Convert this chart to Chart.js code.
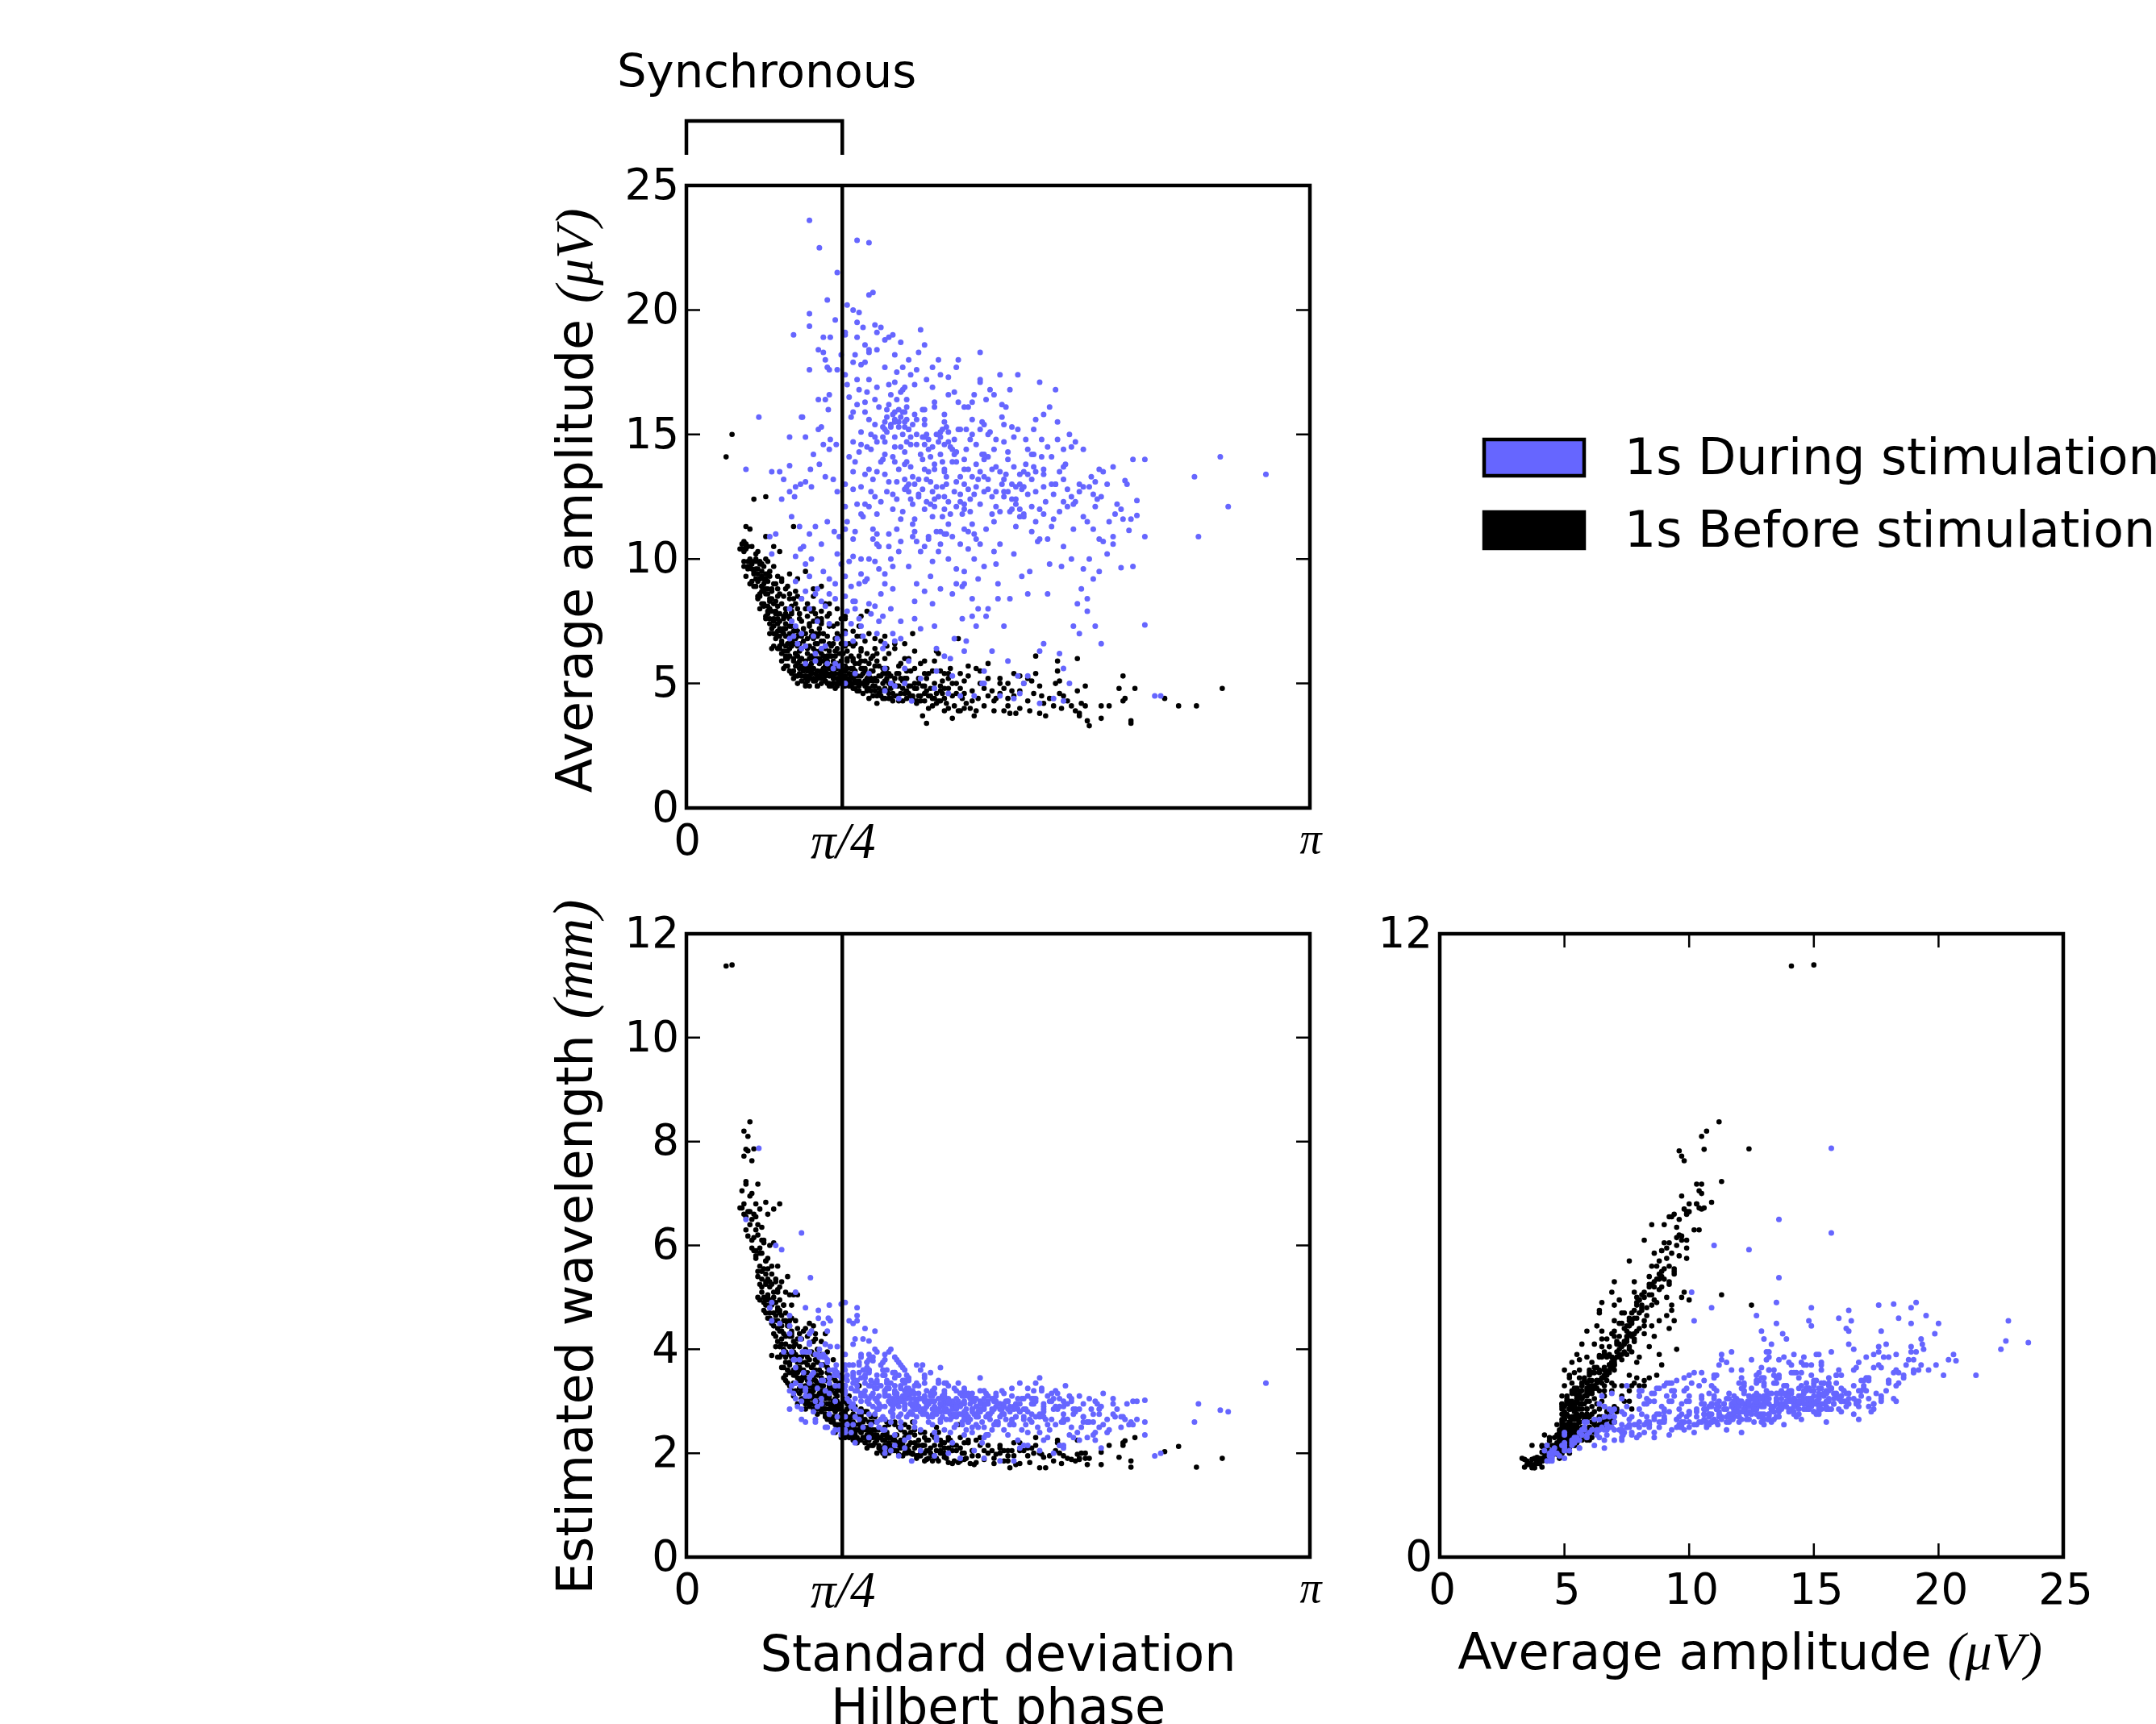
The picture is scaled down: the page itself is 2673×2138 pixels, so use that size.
<!DOCTYPE html>
<html>
<head>
<meta charset="utf-8">
<title>Synchrony, amplitude and wavelength</title>
<script src="https://cdn.jsdelivr.net/npm/chart.js@4"></script>
<style>
html,body{margin:0;padding:0;background:#fff;width:2673px;height:2138px;overflow:hidden}
canvas{position:absolute;display:block}
</style>
</head>
<body>
<canvas id="c1" width="2033" height="1100" style="left:640px;top:0"></canvas>
<canvas id="c2" width="1040" height="1100" style="left:640px;top:1100px"></canvas>
<canvas id="c3" width="993" height="1100" style="left:1680px;top:1100px"></canvas>
<script>
const PI = Math.PI;
const phaseTicks = [0, PI / 4, PI];
const phaseTickLabels = ['0', 'π/4', 'π'];
const amplitudeTicks = [0, 5, 10, 15, 20, 25];
const wavelengthTicks = [0, 2, 4, 6, 8, 10, 12];
const wavelengthTicksShort = [0, 12];
const synchronousLimit = PI / 4;
const duringLabel = '1s During stimulation';
const beforeLabel = '1s Before stimulation';

const beforePhase = [
.20,.23,.29,.30,.31,.32,.34,.40,.30,.29,
.31,.33,.28,.30,.32,.29,.27,.28,.31,.33,
.35,.34,.36,.29,.30,.32,.33,.35,.37,.44,
.40,.38,.41,.47,.31,.33,.35,.36,.37,.39,
.34,.35,.36,.38,.39,.40,.41,.42,.43,.44,
.37,.38,.39,.40,.41,.42,.43,.44,.45,.46,
.36,.37,.39,.40,.41,.42,.44,.45,.46,.48,
.41,.42,.43,.44,.45,.46,.47,.48,.49,.50,
.43,.45,.46,.47,.48,.49,.50,.51,.52,.53,
.47,.48,.49,.50,.51,.52,.53,.54,.55,.56,
.49,.50,.51,.52,.53,.54,.55,.56,.57,.58,
.52,.53,.54,.55,.56,.57,.58,.59,.60,.61,
.55,.57,.58,.59,.60,.61,.62,.63,.64,.65,
.58,.60,.61,.62,.63,.64,.65,.66,.67,.68,
.60,.62,.63,.64,.65,.66,.67,.68,.69,.70,
.62,.64,.65,.66,.67,.68,.69,.70,.71,.72,
.66,.67,.68,.69,.70,.71,.72,.73,.74,.75,
.69,.70,.71,.72,.73,.74,.75,.76,.77,.78,
.71,.73,.74,.75,.76,.77,.78,.79,.80,.81,
.74,.76,.77,.78,.79,.80,.81,.82,.83,.84,
.78,.79,.80,.81,.82,.83,.84,.85,.86,.87,
.80,.82,.84,.85,.86,.87,.88,.89,.90,.91,
.85,.87,.88,.89,.90,.91,.92,.93,.94,.95,
.88,.90,.91,.92,.93,.94,.95,.96,.97,.98,
.92,.94,.96,.97,.98,.99,1.00,1.01,1.02,1.03,
.96,.98,1.00,1.01,1.02,1.03,1.04,1.05,1.06,1.07,
1.00,1.02,1.04,1.05,1.06,1.07,1.08,1.09,1.10,1.11,
1.08,1.09,1.10,1.11,1.12,1.13,1.14,1.15,1.16,1.17,
1.12,1.13,1.15,1.16,1.17,1.18,1.19,1.20,1.21,1.22,
1.14,1.18,1.20,1.22,1.23,1.24,1.25,1.26,1.27,1.28,
1.21,1.24,1.26,1.28,1.29,1.30,1.31,1.32,1.33,1.34,
1.28,1.30,1.32,1.34,1.35,1.36,1.37,1.38,1.39,1.40,
1.36,1.38,1.40,1.41,1.42,1.43,1.44,1.45,1.46,1.47,
1.44,1.46,1.48,1.50,1.52,1.54,1.55,1.56,1.58,1.60,
1.50,1.52,1.55,1.58,1.60,1.62,1.63,1.64,1.65,1.66,
1.62,1.65,1.68,1.70,1.72,1.73,1.75,1.76,1.78,1.80,
1.68,1.74,1.79,1.81,1.83,1.85,1.86,1.88,1.89,1.90,
1.76,1.87,1.97,1.87,1.88,1.92,1.94,1.96,1.97,1.98,
2.01,2.01,2.09,2.13,1.98,2.02,2.03,2.09,2.20,2.18,
2.21,2.20,2.26,2.24,2.24,2.41,2.48,2.57,2.70,1.99,
.36,.38,.40,.42,.44,.46,.48,.50,.52,.54,
.39,.41,.43,.45,.47,.49,.51,.53,.55,.57,
.51,.53,.55,.57,.59,.61,.63,.65,.67,.69,
.56,.58,.60,.62,.64,.66,.68,.70,.72,.74,
.61,.63,.65,.67,.69,.71,.73,.75,.77,.79,
.66,.68,.70,.72,.74,.76,.78,.80,.82,.84,
.73,.75,.77,.79,.81,.83,.85,.87,.89,.91,
.76,.78,.80,.82,.84,.86,.88,.90,.92,.94,
.83,.85,.87,.89,.91,.93,.95,.97,.99,1.01,
.93,.95,.97,.99,1.01,1.03,1.05,1.07,1.09,1.11,
1.02,1.04,1.06,1.08,1.10,1.12,1.14,1.16,1.18,1.20,
1.01,1.13,1.15,1.17,1.19,1.21,1.23,1.25,1.27,1.29,
1.20,1.22,1.24,1.26,1.28,1.30,1.32,1.34,1.37,1.40,
.33,.35,.37,.38,.40,.41,.42,.44,.46,.47,
.49,.50,.52,.54,.56,.58,.60,.62,.64,.66,
.36,.38,.40,.42,.44,.46,.48,.50,.52,.54,
.56,.58,.60,.62,.64,.66,.68,.70,.72,.74,
.55,.58,.61,.64,.68,.72,.76,.80,.84,.88,
.52,.56,.60,.64,.68,.72,.76,.80,.84,.88,
.46,.47,.49,.51,.53,.55,.57,.59,.61,.63,
.50,.53,.56,.59,.62,.65,.68,.71,.74,.77,
.75,.79,.83,.87,.91,.95,.99,1.03,1.07,1.11,
.85,.90,.95,1.00,1.05,1.10,1.15,1.20,1.25,1.30,
.30,.32,.34,.35,.37,.39,.41,.43,.45,.47,
.54,.57,.60,.63,.66,.69,.72,.75,.78,.81,
.38,.40,.42,.44,.46,.48,.50,.52,.54,.56,
1.32,1.38,1.42,1.48,1.52,1.58,1.62,1.68,1.72,1.78,
.64,.68,.72,.76,.80,.84,.88,.92,.96,1.00,
.46,.48,.50,.52,.54,.56,.58,.60,.62,.64,
.66,.68,.70,.72,.74,.76,.78,.80,.82,.84,
.86,.88,.90,.92,.94,.96,.98,1.00,1.02,1.04
];
const beforeAmplitude = [
14.1,15.0,10.7,11.3,10.5,11.2,12.4,12.5,10.6,9.7,
9.6,9.8,10.4,10.5,9.7,10.3,10.4,10.6,9.9,10.5,
10.0,9.4,10.3,9.9,9.3,9.0,9.6,9.2,9.8,10.5,
10.9,9.5,9.9,10.3,9.7,9.1,8.9,9.6,8.6,9.2,
8.9,9.6,8.4,9.3,9.7,8.8,9.1,9.5,8.7,9.0,
8.5,8.9,8.2,8.6,7.9,8.4,8.8,8.2,9.0,8.5,
9.1,8.0,8.7,7.7,9.4,7.6,7.5,7.9,8.1,9.2,
7.8,8.3,7.2,7.6,7.0,7.4,8.6,7.1,7.7,8.0,
6.4,6.8,7.8,7.5,6.6,7.2,6.9,7.7,8.4,6.7,
6.9,8.2,6.3,7.4,8.9,6.4,7.9,11.3,7.2,8.5,
5.6,6.0,6.6,7.0,7.3,5.9,6.2,6.9,7.6,5.7,
6.1,7.8,6.6,8.2,7.1,6.3,7.5,6.7,8.0,5.5,
5.3,5.6,6.4,7.2,5.9,6.8,7.4,6.1,8.5,7.0,
5.1,6.5,7.7,5.2,6.9,5.6,6.3,7.6,5.3,6.7,
4.9,5.7,7.9,6.0,5.4,6.6,7.2,5.0,6.1,8.2,
4.9,6.8,7.8,5.5,6.3,7.5,5.2,6.0,6.9,5.6,
4.9,5.8,6.2,7.0,5.1,7.7,5.3,6.5,7.3,5.7,
5.6,6.4,5.0,6.1,4.9,5.5,6.8,5.2,6.2,7.6,
5.9,5.4,6.6,5.0,5.8,5.1,5.5,7.0,4.9,6.0,
5.3,6.4,5.7,5.0,6.2,5.3,5.6,6.6,4.9,5.2,
5.9,5.2,5.7,5.0,5.4,6.1,5.6,4.8,6.9,5.1,
6.5,4.9,5.0,5.8,5.3,7.3,5.9,4.6,5.5,6.2,
5.5,5.8,5.0,5.4,4.9,7.9,5.3,6.0,4.5,5.7,
6.4,5.6,5.0,4.4,5.2,5.5,4.9,6.2,4.6,5.3,
5.8,6.1,5.1,5.7,4.5,5.4,6.0,4.7,5.0,4.4,
4.2,6.7,5.1,5.6,4.6,5.3,4.3,6.6,4.9,5.7,
4.8,4.4,5.0,4.5,5.4,4.3,4.6,5.1,6.0,4.4,
5.8,4.8,5.2,4.7,6.0,4.9,4.5,5.6,4.2,5.0,
4.6,5.5,4.8,4.3,5.2,4.5,3.7,5.4,4.7,4.0,
4.4,5.8,4.9,5.4,4.5,4.1,5.0,6.3,4.3,4.7,
3.4,5.5,4.6,4.3,5.1,4.4,4.2,4.8,5.6,3.6,
4.9,3.9,5.2,4.5,4.1,5.0,3.9,4.8,4.4,4.0,
4.6,3.9,5.1,4.2,5.3,4.0,4.7,3.7,5.6,4.4,
4.3,3.9,5.0,4.1,5.8,4.7,3.9,4.4,5.0,3.9,
4.8,4.5,4.3,4.6,4.8,4.1,3.8,4.7,4.5,3.8,
4.4,5.4,4.0,5.0,4.3,3.9,4.6,5.4,3.8,4.2,
4.7,5.1,4.5,3.7,4.4,4.1,5.0,4.6,4.0,4.5,
6.1,5.9,6.0,5.5,5.1,4.3,4.1,3.9,4.7,3.8,
4.9,4.1,4.1,4.1,3.7,3.5,3.3,3.6,5.3,4.8,
4.4,4.3,4.8,3.5,3.4,4.4,4.1,4.1,4.8,4.2,
9.4,8.7,9.2,8.0,7.0,8.8,6.7,6.5,7.3,6.0,
8.1,8.6,7.9,8.3,6.5,7.6,6.0,7.5,5.7,6.6,
5.7,5.4,6.8,7.8,5.5,6.2,7.1,5.1,7.0,5.9,
5.8,6.0,7.0,6.5,5.1,6.0,5.5,5.5,6.6,5.9,
5.1,5.5,6.6,6.0,6.7,5.4,6.1,5.4,6.9,4.9,
5.2,5.9,5.7,6.3,5.0,5.6,5.3,5.5,5.1,5.9,
5.7,6.1,5.4,5.6,5.9,5.3,5.1,6.1,5.6,5.2,
4.9,5.4,5.1,5.2,5.4,5.0,5.3,5.9,4.8,5.1,
5.6,5.3,4.9,5.0,4.7,4.7,6.4,5.3,5.0,5.4,
5.5,5.2,4.8,4.4,5.2,4.8,5.2,4.9,4.3,5.5,
6.2,4.6,4.5,5.2,4.6,4.9,7.0,4.8,4.3,4.6,
6.5,4.5,5.0,4.5,4.9,5.2,4.8,4.4,6.2,4.6,
4.3,4.5,4.4,4.2,5.5,4.8,4.0,5.0,6.8,4.6,
9.9,10.2,9.9,8.9,9.4,8.1,7.4,7.3,7.6,7.8,
8.5,7.2,7.6,7.1,6.1,6.9,5.3,6.0,7.5,6.9,
8.5,8.2,7.6,7.0,6.5,6.4,5.9,5.7,5.5,5.2,
5.0,5.3,5.0,5.6,5.2,4.9,5.4,5.1,4.9,5.0,
8.7,8.4,8.2,8.0,7.6,7.3,7.0,7.1,6.5,6.9,
9.4,9.2,9.5,8.8,8.9,8.2,8.0,7.6,7.1,6.3,
6.9,6.4,7.0,6.3,6.5,6.2,5.9,5.6,6.4,5.8,
7.8,8.1,6.5,7.0,7.3,6.9,7.4,6.1,5.5,5.2,
4.8,4.9,5.0,4.7,4.8,4.7,5.6,4.9,5.4,5.2,
6.6,6.7,6.8,6.9,6.4,6.6,6.3,5.9,5.9,5.4,
10.4,10.0,9.5,9.9,9.2,9.0,8.8,8.4,7.8,7.2,
6.8,5.4,5.6,5.4,5.3,5.4,5.7,6.3,6.6,6.3,
9.8,10.0,9.3,9.7,9.3,9.1,8.8,8.6,8.4,8.0,
5.4,5.4,5.7,5.5,5.2,5.2,5.0,5.3,5.2,4.9,
6.4,7.9,7.8,7.4,7.7,6.0,7.7,7.0,5.9,5.4,
7.1,6.2,6.1,6.6,5.5,5.3,6.0,5.2,5.3,5.6,
4.9,5.2,5.3,5.0,5.2,5.0,5.0,5.2,5.0,4.8,
4.7,5.6,5.1,5.1,4.9,4.5,4.7,4.4,5.4,4.9
];
const beforeWavelength = [
11.38,11.40,8.20,7.23,8.10,8.38,7.86,4.85,7.85,7.72,
7.82,7.63,7.05,7.18,6.95,6.80,6.72,6.72,6.65,7.00,
6.80,6.60,7.18,6.60,6.55,6.40,6.50,6.55,6.70,6.70,
6.83,6.35,6.60,6.80,6.18,5.95,5.90,6.20,5.85,6.05,
5.90,5.80,5.40,5.85,6.10,5.70,5.75,6.00,5.60,6.05,
5.25,5.50,5.00,5.30,5.00,5.20,5.45,5.10,5.35,5.60,
5.00,4.95,4.90,4.70,5.55,4.60,4.45,4.90,4.80,5.30,
4.60,4.80,4.50,4.30,4.25,4.40,5.20,4.10,4.55,4.70,
3.88,4.05,4.15,4.35,3.90,4.00,3.75,4.50,5.05,3.85,
3.85,4.45,3.65,3.95,5.40,3.55,4.60,5.05,4.10,5.05,
3.45,3.50,3.60,3.70,3.90,3.35,3.55,3.75,4.05,3.30,
3.75,4.30,3.95,4.55,3.85,3.40,4.20,3.50,4.40,3.10,
3.20,3.15,3.60,3.90,3.25,3.70,4.10,3.30,4.45,3.80,
3.05,3.45,4.25,2.95,3.65,3.10,3.40,4.00,2.90,3.55,
2.85,3.20,4.35,3.25,2.95,3.50,3.85,2.80,3.30,4.30,
2.90,3.70,4.20,3.00,3.35,3.90,2.85,3.20,3.65,3.05,
2.75,3.10,3.30,3.70,2.75,3.95,2.85,3.45,3.80,3.05,
2.95,3.40,2.65,3.15,2.60,2.85,3.55,2.70,3.25,3.50,
3.10,2.90,3.45,2.55,2.95,2.55,2.75,3.30,2.45,3.00,
2.70,3.20,2.85,2.45,3.05,2.55,2.70,3.10,2.40,2.55,
2.85,2.60,2.75,2.35,2.65,2.90,2.60,2.35,3.20,2.45,
3.00,2.35,2.30,2.70,2.45,3.30,2.75,2.30,2.50,2.80,
2.55,2.65,2.25,2.50,2.20,3.75,2.40,2.70,2.15,2.45,
2.70,2.45,2.25,2.30,2.35,2.45,2.20,2.60,2.10,2.30,
2.50,2.60,2.25,2.45,2.05,2.35,2.50,2.10,2.20,2.05,
2.35,2.65,2.25,2.40,2.15,2.30,2.10,2.60,2.20,2.50,
2.15,2.00,2.25,2.05,2.35,1.98,2.10,2.20,2.40,2.05,
2.45,2.15,2.30,2.10,2.50,2.20,1.98,2.35,1.90,2.15,
2.05,2.40,2.10,1.95,2.25,2.00,2.15,2.30,2.05,1.90,
2.00,2.40,2.15,2.25,2.00,1.85,2.15,2.50,1.85,2.05,
1.88,2.35,2.05,2.00,2.20,2.00,1.90,2.10,2.25,1.80,
2.15,1.92,2.25,2.05,1.85,2.15,1.82,2.10,2.00,1.88,
2.05,1.85,2.20,1.90,2.20,1.80,2.05,1.78,2.25,1.95,
1.95,1.82,2.15,1.88,2.35,2.05,1.80,1.98,2.10,1.85,
2.05,2.00,1.90,2.00,2.05,1.85,1.72,2.05,1.95,1.78,
1.95,2.20,1.80,2.05,1.95,1.82,2.00,2.15,1.72,1.92,
2.05,2.10,1.98,1.72,1.95,1.85,2.05,2.00,1.80,1.95,
2.30,2.25,2.25,2.20,2.15,1.90,1.88,1.85,1.98,1.90,
2.00,1.90,2.02,2.15,1.88,1.78,1.90,1.78,2.20,1.92,
2.24,2.15,2.30,1.85,1.73,2.03,2.13,1.73,1.90,2.00,
5.50,5.35,5.25,4.95,4.55,5.15,4.20,3.85,4.05,3.55,
4.75,4.95,4.85,4.65,4.05,4.30,3.60,4.25,3.35,3.65,
3.35,3.20,3.90,4.30,3.05,3.55,3.95,3.00,3.60,3.20,
3.45,3.40,3.75,3.35,2.95,3.25,3.05,2.85,3.50,3.00,
3.00,3.05,3.60,3.15,3.40,2.95,3.20,2.80,3.35,2.50,
2.85,3.15,3.05,3.25,2.65,2.85,2.65,2.65,2.45,2.75,
2.95,3.15,2.70,2.70,2.85,2.55,2.40,2.75,2.60,2.35,
2.55,2.55,2.40,2.50,2.45,2.30,2.40,2.65,2.25,2.30,
2.60,2.45,2.25,2.30,2.10,2.15,2.70,2.30,2.25,2.35,
2.40,2.35,2.15,2.00,2.30,2.15,2.25,2.20,1.95,2.35,
2.55,2.10,2.05,2.25,2.00,2.15,2.60,2.15,1.95,2.00,
2.60,2.00,2.20,1.95,2.15,2.25,2.10,1.95,2.40,2.00,
1.85,2.05,1.95,1.90,2.25,2.10,1.82,2.15,2.55,2.00,
6.10,6.30,5.95,5.20,5.45,5.05,4.70,4.70,4.55,4.75,
4.85,4.25,4.45,4.15,3.55,3.85,3.00,3.30,4.15,3.75,
6.40,6.10,5.70,5.30,4.90,4.75,4.35,4.10,3.90,3.50,
3.60,3.75,3.30,3.80,3.45,3.10,3.55,3.10,2.95,2.90,
3.50,3.45,3.40,3.30,3.20,3.10,2.90,2.80,2.70,2.60,
4.55,4.40,4.00,3.90,3.70,3.30,3.10,3.00,2.85,2.50,
5.10,4.70,4.85,4.45,4.35,4.10,3.85,3.60,3.85,3.40,
5.10,4.85,4.20,4.35,4.50,4.30,4.15,3.55,3.25,2.95,
2.40,2.65,2.70,2.55,2.45,2.35,2.25,2.05,2.15,2.00,
2.90,2.80,2.75,2.65,2.55,2.55,2.45,2.40,2.30,2.20,
6.30,6.65,6.15,5.75,5.60,5.55,5.35,5.25,5.30,4.95,
3.60,3.25,2.95,3.15,3.35,3.20,3.30,3.40,3.20,2.95,
5.10,4.95,4.85,5.00,4.75,4.65,4.55,4.25,4.05,3.85,
2.30,2.30,2.25,2.30,2.15,2.15,2.05,2.20,2.10,2.00,
2.85,3.45,3.35,3.00,3.30,2.35,2.85,2.60,2.30,2.15,
3.85,3.65,3.40,3.30,3.10,2.95,3.20,3.00,3.15,3.20,
2.95,2.85,2.70,2.65,2.60,2.50,2.30,2.30,2.30,2.25,
2.20,2.40,2.30,2.15,2.15,2.00,2.10,1.95,2.30,2.05
];

const duringPhase = [
.62,.67,.76,.86,.92,.92,.94,.71,.81,.87,
.365,.30,.58,.45,.48,.625,.55,.42,.43,.43,
.54,.62,.62,.665,.69,.69,.725,.71,.62,.665,
.70,.715,.585,.52,.52,.60,.665,.69,.725,.755,
.47,.49,.52,.545,.575,.60,.63,.67,.70,.74,
.53,.55,.57,.59,.62,.65,.68,.71,.745,.77,
.575,.60,.63,.66,.69,.72,.75,.78,.58,.62,
.62,.66,.52,.55,.58,.60,.64,.68,.72,.76,
.74,.78,.80,.84,.88,.60,.65,.70,.75,.80,
.80,.81,.82,.83,.84,.85,.86,.87,.88,.89,
.80,.81,.82,.83,.84,.85,.86,.87,.88,.89,
.81,.83,.85,.87,.89,.82,.84,.86,.88,.90,
.90,.91,.92,.93,.94,.95,.96,.97,.98,.99,
.90,.91,.92,.93,.94,.95,.96,.97,.98,.99,
.91,.93,.95,.97,.99,.92,.94,.96,.98,1.00,
1.00,1.01,1.02,1.03,1.04,1.05,1.06,1.07,1.08,1.09,
1.00,1.01,1.02,1.03,1.04,1.05,1.06,1.07,1.08,1.09,
1.01,1.03,1.05,1.07,1.09,1.02,1.04,1.06,1.08,1.10,
1.02,1.04,1.06,1.08,1.10,1.03,1.05,1.07,1.09,1.11,
1.10,1.11,1.12,1.13,1.14,1.15,1.16,1.17,1.18,1.19,
1.10,1.11,1.12,1.13,1.14,1.15,1.16,1.17,1.18,1.19,
1.11,1.13,1.15,1.17,1.19,1.12,1.14,1.16,1.18,1.20,
1.20,1.21,1.22,1.23,1.24,1.25,1.26,1.27,1.28,1.29,
1.20,1.21,1.22,1.23,1.24,1.25,1.26,1.27,1.28,1.29,
1.21,1.23,1.25,1.27,1.29,1.22,1.24,1.26,1.28,1.30,
1.30,1.31,1.32,1.33,1.34,1.35,1.36,1.37,1.38,1.39,
1.30,1.31,1.32,1.33,1.34,1.35,1.36,1.37,1.38,1.39,
1.31,1.33,1.35,1.37,1.39,1.32,1.34,1.36,1.38,1.40,
1.40,1.41,1.42,1.43,1.44,1.45,1.46,1.47,1.48,1.49,
1.40,1.41,1.42,1.43,1.44,1.45,1.46,1.47,1.48,1.49,
1.41,1.43,1.45,1.47,1.49,1.42,1.44,1.46,1.48,1.50,
1.50,1.51,1.52,1.53,1.54,1.55,1.56,1.57,1.58,1.59,
1.50,1.51,1.52,1.53,1.54,1.55,1.56,1.57,1.58,1.59,
1.60,1.61,1.62,1.63,1.64,1.65,1.66,1.67,1.68,1.69,
1.60,1.61,1.62,1.63,1.64,1.65,1.66,1.67,1.68,1.69,
1.70,1.71,1.72,1.73,1.74,1.75,1.76,1.77,1.78,1.79,
1.72,1.74,1.76,1.78,1.80,1.82,1.84,1.86,1.88,1.90,
1.80,1.81,1.83,1.85,1.87,1.89,1.91,1.93,1.95,1.97,
1.82,1.84,1.86,1.88,1.90,1.92,1.94,1.96,1.98,2.00,
1.92,1.94,1.96,1.98,2.00,2.02,2.04,2.05,2.06,2.08,
2.00,2.03,2.05,2.06,2.08,2.09,2.10,2.12,2.13,2.15,
2.92,2.73,2.69,2.58,2.56,2.39,2.36,2.31,2.31,2.31,
2.25,2.27,2.27,2.24,2.23,2.20,2.21,2.15,2.15,2.09,
2.25,2.19,2.16,2.17,2.12,2.22,2.19,2.05,2.02,2.08,
.53,.54,.56,.58,.65,.71,.77,.80,.85,.92,
1.00,1.03,1.05,1.07,1.10,1.135,1.18,1.25,1.32,1.38,
1.45,1.50,1.58,1.65,1.68,1.72,1.78,1.85,1.90,1.93,
.72,.78,.80,.86,.86,.92,.90,.84,.75,.70,
.95,.97,.99,1.01,1.03,1.05,1.07,1.09,1.11,1.13,
.96,.98,1.00,1.02,1.04,1.06,1.08,1.10,1.12,1.14,
1.12,1.14,1.16,1.18,1.20,1.22,1.24,1.26,1.28,1.30,
1.13,1.15,1.17,1.19,1.21,1.23,1.25,1.27,1.29,1.31,
1.22,1.24,1.26,1.28,1.30,1.32,1.34,1.36,1.38,1.40,
1.32,1.34,1.36,1.38,1.40,1.42,1.44,1.46,1.48,1.50,
1.42,1.44,1.46,1.48,1.50,1.52,1.54,1.56,1.58,1.60,
1.52,1.54,1.56,1.58,1.60,1.62,1.64,1.66,1.68,1.70,
1.62,1.64,1.66,1.68,1.70,1.72,1.74,1.76,1.78,1.80,
1.72,1.74,1.76,1.78,1.80,1.82,1.84,1.86,1.88,1.90,
.80,.84,.88,.92,.96,1.00,1.04,1.08,1.12,1.16,
1.20,1.24,1.28,1.32,1.36,1.40,1.44,1.48,1.52,1.56,
.72,.76,.80,.84,.88,.92,.96,1.00,1.04,1.08,
1.12,1.16,1.20,1.24,1.28,1.32,1.36,1.40,1.44,1.48,
.84,.87,.90,.93,.96,.99,1.02,1.05,1.08,1.11,
1.51,1.55,1.59,1.63,1.67,1.71,1.75,1.79,1.83,1.87,
.64,.68,.72,.76,.80,.84,.88,.92,.96,1.00,
.68,.72,.76,.80,.84,.88,.92,.96,1.00,1.04,
1.90,1.94,1.98,2.02,2.06,2.10,1.99,1.95,2.03,2.07,
1.20,1.30,1.40,1.50,1.60,1.70,1.80,1.90,1.10,1.00,
.55,.60,.65,.70,.75,.80,.85,.90,.95,.52,
.85,.90,.95,1.00,1.05,1.10,1.15,1.20,1.25,1.30,
.95,1.00,1.05,1.10,1.15,1.20,1.25,1.30,1.35,1.40,
1.05,1.10,1.15,1.20,1.25,1.30,1.35,1.40,1.45,1.50,
1.55,1.60,1.65,1.70,1.75,1.80,1.85,1.90,1.95,2.00
];
const duringAmplitude = [
23.6,22.5,21.5,22.8,22.7,20.6,20.7,20.4,20.2,19.9,
15.7,13.6,15.7,11.0,12.4,13.6,10.1,10.9,10.2,13.5,
19.0,19.85,19.35,18.4,18.3,18.9,18.9,17.7,17.6,16.4,
16.4,16.0,15.7,14.9,13.75,14.9,15.2,14.6,14.8,14.6,
13.5,13.2,12.7,12.5,13.0,13.1,12.9,13.8,13.3,13.2,
11.7,12.9,11.3,10.5,11.0,11.3,10.6,11.5,11.1,10.9,
10.4,9.8,10.0,8.8,9.5,8.6,9.0,9.8,8.4,9.3,
8.0,7.5,8.0,7.3,7.0,6.5,6.9,6.4,7.4,6.8,
5.6,5.7,6.6,6.7,7.3,5.8,6.2,6.5,5.8,7.0,
19.0,17.0,16.5,15.7,14.7,18.2,12.2,16.8,10.0,19.3,
13.0,11.5,9.9,8.9,15.9,13.9,18.9,9.0,14.6,11.7,
7.9,7.4,8.3,7.6,6.9,14.1,12.8,16.2,15.1,18.6,
17.9,16.7,15.6,14.4,13.2,19.4,11.8,10.5,8.6,7.7,
15.9,14.5,17.2,12.7,10.8,16.4,18.4,9.6,13.9,15.3,
9.2,7.8,8.1,7.5,6.4,12.1,11.2,14.7,19.3,17.7,
15.5,16.0,16.2,15.4,15.8,15.6,16.4,15.3,15.7,15.9,
14.2,12.7,11.0,10.0,8.8,18.2,17.5,13.6,7.5,11.9,
15.1,16.6,14.9,15.5,16.8,18.9,9.7,11.2,14.5,15.5,
10.5,12.6,13.1,6.8,15.9,8.0,6.7,10.3,17.7,16.4,
14.3,16.1,15.2,13.7,12.2,11.1,9.0,18.3,7.2,14.9,
16.9,14.7,13.0,17.4,10.9,8.3,15.6,12.5,19.2,14.0,
12.9,14.9,7.6,13.2,16.0,5.9,11.4,15.0,10.3,14.9,
14.6,15.0,14.4,13.1,12.7,12.4,12.9,14.7,15.1,11.7,
16.0,17.2,10.8,9.3,8.2,7.3,6.4,18.0,11.1,13.9,
12.3,14.1,16.1,10.3,15.2,13.5,17.7,5.5,14.2,12.0,
15.8,13.3,14.7,11.8,10.9,16.7,9.0,18.0,12.6,7.6,
13.6,15.3,12.3,14.5,8.6,6.8,13.1,16.3,10.6,11.8,
11.0,6.0,14.2,15.2,8.9,17.3,5.3,12.1,15.2,13.6,
12.2,15.2,10.4,14.8,11.4,16.6,12.9,8.0,17.1,14.2,
9.5,6.7,13.6,11.9,15.0,10.0,7.3,13.2,18.3,5.0,
14.4,12.4,11.0,9.2,15.5,16.1,7.7,13.8,12.2,15.4,
13.3,11.2,14.1,16.8,12.5,10.3,14.8,9.0,17.4,13.0,
9.7,7.7,12.8,15.1,6.3,11.5,13.7,8.4,10.6,15.7,
12.7,13.4,14.3,11.9,15.3,10.2,12.2,17.4,13.0,9.3,
12.5,16.1,5.9,8.4,12.0,14.9,11.3,5.3,13.4,12.8,
11.8,13.8,8.6,9.5,13.2,15.2,11.5,10.7,6.3,14.8,
12.6,14.2,15.6,17.1,13.4,10.8,13.0,16.8,6.2,14.4,
15.8,12.3,9.8,11.6,14.8,9.7,13.8,15.0,11.2,8.2,
8.6,14.1,13.0,11.9,10.5,12.8,14.5,12.3,7.0,9.6,
12.1,10.0,14.7,13.0,11.7,7.9,13.3,12.6,7.3,13.6,
14.4,10.0,11.2,12.1,9.5,12.5,13.5,13.0,11.5,13.7,
13.4,12.1,14.1,10.9,13.3,4.5,4.5,7.35,10.9,14.0,
14.0,12.35,11.75,11.6,11.15,11.6,13.15,10.9,10.6,6.6,
9.7,9.65,11.8,12.2,10.2,13.0,12.0,9.2,8.4,10.8,
7.5,6.9,6.6,6.4,5.9,5.8,5.7,5.0,5.4,5.4,
5.6,5.0,4.9,4.4,5.6,4.3,5.2,4.8,4.6,4.5,
4.5,5.0,4.5,4.4,4.6,5.3,4.2,4.4,4.3,5.0,
17.6,18.2,19.1,19.5,17.2,18.4,16.3,20.0,19.6,18.0,
15.4,16.1,14.9,15.7,15.3,15.9,16.0,15.0,15.6,14.6,
13.5,12.3,14.7,13.1,14.1,12.4,11.6,13.8,12.7,13.3,
15.2,15.4,14.6,14.2,15.6,14.8,14.5,15.0,14.9,14.6,
12.4,13.0,12.6,12.8,13.2,12.2,13.6,12.5,12.9,13.0,
10.9,11.7,11.1,10.6,12.5,11.4,13.9,14.3,12.3,11.2,
15.1,14.4,13.9,13.3,13.0,12.8,13.3,14.6,15.2,12.7,
11.1,15.6,10.8,13.5,14.2,13.2,11.8,12.1,13.5,14.7,
15.0,13.6,12.7,11.9,13.2,12.7,13.0,12.4,12.0,12.9,
14.0,12.4,12.9,11.7,11.7,13.4,12.1,12.7,12.0,13.6,
14.4,11.1,13.5,10.8,11.8,14.5,11.3,13.0,13.5,12.3,
9.3,10.8,11.8,10.0,10.6,9.0,12.0,10.7,9.7,10.7,
10.5,9.9,8.8,10.0,9.6,9.0,8.4,10.6,8.0,9.8,
16.6,17.6,17.4,17.9,17.8,18.3,19.1,18.8,19.0,18.7,
18.0,17.6,18.6,16.9,17.4,16.6,17.7,16.1,16.3,17.2,
13.5,14.3,13.4,15.0,16.9,14.0,17.0,14.5,16.7,13.9,
16.4,16.6,16.2,16.8,15.2,14.8,14.2,14.1,16.1,15.5,
14.2,15.3,14.4,12.7,12.1,10.1,9.4,8.2,7.0,6.6,
8.3,9.2,10.2,11.2,8.3,12.9,13.6,11.0,9.4,7.0,
13.7,12.5,12.7,11.5,13.1,10.7,8.8,7.3,12.9,12.4,
8.7,6.1,6.3,5.5,7.3,5.0,6.6,5.6,5.0,4.7,
9.1,8.7,8.6,8.1,8.4,8.5,8.0,9.1,9.9,6.8,
11.1,12.2,12.5,13.4,13.9,12.8,11.6,12.0,12.1,11.0,
14.9,15.2,15.5,15.3,15.8,15.4,16.3,15.5,14.8,14.0,
17.1,13.2,17.0,13.6,13.8,13.5,12.7,12.0,12.6,14.0,
14.4,15.4,13.7,13.5,13.7,12.9,12.6,13.2,12.2,12.9
];
const duringWavelength = [
4.13,4.00,3.50,4.55,4.16,3.90,3.78,3.80,3.50,3.70,
7.87,6.50,6.24,6.00,5.92,5.38,5.10,4.80,4.55,4.90,
3.80,4.30,4.10,4.60,3.90,4.50,4.05,4.35,3.95,4.75,
4.10,4.60,3.95,4.45,4.30,4.80,3.90,3.85,4.55,3.70,
4.50,3.95,4.65,3.80,4.20,3.95,4.35,3.85,4.10,3.60,
3.95,3.65,3.80,3.55,3.45,3.90,3.40,3.75,3.50,3.30,
3.30,3.20,3.50,3.25,3.40,3.15,3.30,3.45,3.00,3.35,
3.10,2.90,3.20,3.05,2.85,3.10,2.80,2.95,2.75,2.70,
2.40,2.35,2.70,2.55,2.80,2.60,2.65,2.50,2.45,2.45,
3.60,3.40,4.55,3.25,3.70,3.05,3.30,3.75,3.10,4.20,
3.30,3.05,3.00,2.90,3.50,4.20,4.80,2.80,3.15,3.60,
2.55,2.40,2.70,2.65,2.50,3.70,3.55,3.20,3.90,3.45,
3.20,3.65,3.30,3.10,3.85,4.00,3.00,2.95,2.65,2.70,
3.50,3.75,3.05,3.40,3.15,4.35,3.35,2.85,3.30,3.60,
3.00,2.55,2.75,2.50,2.45,3.60,2.90,3.25,3.70,3.10,
3.15,3.60,3.00,3.35,3.05,3.45,2.95,3.75,3.25,3.10,
3.90,3.35,3.25,2.80,2.75,3.55,3.15,3.50,2.50,3.05,
3.40,4.00,3.20,2.90,3.00,3.95,2.95,3.00,3.30,3.20,
3.10,2.85,3.80,2.50,3.35,2.60,2.35,2.70,3.65,3.05,
2.90,3.50,3.10,2.95,3.20,2.85,2.70,3.30,2.45,3.70,
3.10,3.25,3.45,2.95,2.75,2.60,3.00,3.05,3.60,2.80,
2.70,3.05,2.50,3.15,2.85,2.30,2.95,3.35,2.80,3.00,
2.85,3.20,2.95,3.10,2.85,3.00,2.75,3.35,2.95,2.90,
3.05,2.90,2.70,3.00,2.55,2.40,2.30,3.40,2.95,3.10,
2.75,3.55,2.80,2.85,3.05,2.95,3.00,2.25,2.80,3.00,
3.15,2.85,3.05,2.75,2.90,2.95,2.85,3.35,2.95,2.55,
2.95,3.35,2.80,2.65,2.70,2.50,3.20,3.00,2.75,3.10,
2.65,2.40,2.90,2.75,2.60,2.80,2.20,2.95,3.15,2.70,
3.20,2.85,2.60,3.05,2.85,2.75,2.90,2.50,3.20,2.95,
2.65,2.45,3.15,2.95,2.80,3.00,2.55,2.70,3.00,2.20,
2.75,2.65,3.05,2.80,2.60,3.10,2.40,2.90,2.80,2.95,
2.85,2.70,3.00,2.65,3.05,2.55,2.90,2.60,2.95,2.75,
2.50,2.35,3.10,2.75,2.45,2.85,3.15,2.55,2.95,2.85,
2.90,2.65,3.00,2.80,3.25,2.55,2.95,2.85,3.35,2.45,
2.75,3.00,2.35,2.55,2.60,2.90,2.70,2.25,2.80,3.05,
2.85,2.55,2.40,2.65,3.05,2.95,2.70,2.50,2.40,3.25,
3.10,2.75,3.35,3.45,2.90,2.55,3.00,3.20,2.15,3.00,
2.95,2.65,2.45,3.05,2.85,2.60,3.30,3.10,2.75,2.40,
2.30,3.15,2.55,2.90,2.60,2.95,3.00,2.80,2.25,2.70,
2.65,2.50,2.85,3.10,2.70,2.30,2.85,2.60,2.25,2.85,
2.95,2.60,2.75,2.40,2.50,2.90,3.15,2.65,2.45,3.05,
3.35,2.80,2.83,2.95,2.60,2.00,1.95,2.35,2.60,3.02,
3.00,3.00,2.65,2.60,2.55,2.70,2.65,2.95,2.75,2.10,
2.55,2.50,2.70,2.85,2.40,2.95,2.70,2.35,2.60,2.75,
3.30,3.15,2.90,2.65,2.60,2.50,2.45,2.40,2.20,2.30,
2.10,2.05,2.15,1.95,2.25,1.85,2.05,1.95,2.00,1.90,
2.05,1.90,1.85,1.85,2.10,2.15,2.05,2.00,2.15,2.35,
4.85,4.87,4.90,4.65,3.40,3.55,4.40,4.50,3.60,3.85,
3.35,3.10,3.50,3.25,2.95,3.15,3.05,3.40,3.20,2.95,
3.05,2.90,3.20,3.00,2.85,3.10,2.75,2.95,3.15,2.90,
3.25,3.15,2.95,3.05,2.85,3.00,3.10,2.80,2.95,3.20,
2.80,3.05,2.90,2.75,2.95,3.15,2.85,3.05,2.70,3.00,
2.60,2.75,2.85,2.65,2.80,2.95,3.00,2.70,2.90,2.80,
3.00,2.85,2.90,3.15,2.95,2.70,2.85,3.05,2.80,2.90,
2.60,3.05,2.70,2.95,3.05,2.75,2.85,3.00,2.70,2.95,
2.95,2.80,3.10,2.85,2.75,3.00,2.65,2.90,2.80,3.05,
2.85,3.10,2.70,2.95,2.65,2.80,2.95,3.05,2.70,2.85,
3.25,2.60,3.00,2.75,2.80,3.10,2.65,2.90,3.05,2.75,
3.20,2.90,3.00,2.75,2.85,2.65,2.90,2.60,2.75,2.85,
3.05,2.70,2.60,2.80,2.55,2.65,2.50,2.85,2.35,2.60,
3.60,4.05,3.90,4.10,3.85,3.60,3.95,3.80,3.55,3.70,
3.40,3.70,3.50,3.20,3.65,3.30,3.05,3.25,3.15,3.45,
3.45,3.55,3.60,3.30,3.40,3.75,3.25,3.55,3.00,3.15,
3.15,3.05,3.20,2.90,3.05,2.85,3.05,3.20,3.00,3.15,
3.55,3.70,3.45,3.50,3.45,3.35,3.10,2.95,2.60,2.45,
3.05,3.35,3.55,3.70,2.95,3.45,3.80,3.50,3.20,2.70,
2.90,3.05,2.85,2.60,3.00,2.55,2.50,2.30,3.05,2.95,
2.75,2.45,2.35,2.30,2.45,2.15,2.25,2.10,2.10,2.00,
3.35,3.25,3.00,3.20,3.00,3.15,2.85,3.10,3.25,2.85,
3.20,3.35,3.25,3.50,3.30,3.40,3.15,3.35,3.25,3.10,
3.05,2.90,3.00,2.85,2.95,3.10,2.90,2.85,3.25,3.10,
3.85,3.60,3.30,3.45,3.15,3.35,2.75,3.00,3.05,3.20,
3.00,3.15,2.85,2.70,3.20,2.70,2.85,2.65,2.85,2.60
];

const BLUE = '#6666ff', BLACK = '#000000';
const SANS = '"DejaVu Sans"';
const SERIF = '"Liberation Serif"';
const TICK_PX = 53, LABEL_PX = 62;

const zip = (xs, ys) => xs.map((x, i) => ({ x, y: ys[i] }));

function scatterSet(label, data, color, radius) {
  return { label, data, backgroundColor: color, borderColor: color, borderWidth: 0,
           pointRadius: radius, pointHoverRadius: radius, showLine: false };
}
function limitLine(top) {
  return { label: 'Synchronous limit', data: [{ x: synchronousLimit, y: 0 }, { x: synchronousLimit, y: top }],
           showLine: true, borderColor: BLACK, borderWidth: 4.5, pointRadius: 0, backgroundColor: BLACK };
}

const frame = {
  id: 'frame',
  afterDatasetsDraw(chart) {
    const { ctx, chartArea: a, scales: { x, y } } = chart;
    ctx.save();
    ctx.strokeStyle = BLACK;
    ctx.lineWidth = 2.5;
    ctx.beginPath();
    x.ticks.forEach(t => {
      const p = x.getPixelForValue(t.value);
      ctx.moveTo(p, a.bottom); ctx.lineTo(p, a.bottom - 17);
      ctx.moveTo(p, a.top); ctx.lineTo(p, a.top + 17);
    });
    y.ticks.forEach(t => {
      const p = y.getPixelForValue(t.value);
      ctx.moveTo(a.left, p); ctx.lineTo(a.left + 17, p);
      ctx.moveTo(a.right, p); ctx.lineTo(a.right - 17, p);
    });
    ctx.stroke();
    ctx.lineWidth = 4.5;
    ctx.strokeRect(a.left, a.top, a.right - a.left, a.bottom - a.top);
    ctx.restore();
  }
};

const annotations = {
  id: 'annotations',
  afterDraw(chart) {
    const { ctx, scales: { x } } = chart;
    const l = x.getPixelForValue(0), r = x.getPixelForValue(synchronousLimit);
    ctx.save();
    ctx.strokeStyle = BLACK; ctx.lineWidth = 4.5; ctx.lineJoin = 'miter';
    ctx.beginPath(); ctx.moveTo(l, 192); ctx.lineTo(l, 150); ctx.lineTo(r, 150); ctx.lineTo(r, 192); ctx.stroke();
    ctx.fillStyle = BLACK; ctx.textBaseline = 'alphabetic'; ctx.textAlign = 'left';
    ctx.font = '57.6px ' + SANS;
    ctx.fillText('Synchronous', 125, 108);
    const swatchX = 1200, swatchW = 124, swatchH = 45, textX = 1374;
    ctx.font = '61.7px ' + SANS;
    [[duringLabel, BLUE, 545, 588], [beforeLabel, BLACK, 635, 678]].forEach(([t, c, top, base]) => {
      ctx.fillStyle = c; ctx.fillRect(swatchX, top, swatchW, swatchH);
      ctx.strokeStyle = BLACK; ctx.lineWidth = 4.5; ctx.strokeRect(swatchX, top, swatchW, swatchH);
      ctx.fillStyle = BLACK; ctx.fillText(t, textX, base);
    });
    ctx.restore();
  }
};

function mathLabel(id, sans, math, mathPx, cx, cy, vertical) {
  return {
    id,
    afterDraw(chart) {
      const ctx = chart.ctx;
      ctx.save();
      ctx.fillStyle = BLACK; ctx.textBaseline = 'alphabetic'; ctx.textAlign = 'left';
      ctx.translate(cx, cy);
      if (vertical) ctx.rotate(-PI / 2);
      const sansFont = LABEL_PX + 'px ' + SANS, mathFont = 'italic ' + mathPx + 'px ' + SERIF;
      ctx.font = sansFont; const w1 = ctx.measureText(sans).width;
      ctx.font = mathFont; const w2 = ctx.measureText(math).width;
      let start = -(w1 + w2) / 2;
      ctx.font = sansFont; ctx.fillText(sans, start, 0);
      ctx.font = mathFont; ctx.fillText(math, start + w1, 0);
      ctx.restore();
    }
  };
}

function fixed(width) {
  return s => { s.width = width; s.paddingLeft = s.paddingRight = s.paddingTop = s.paddingBottom = 0; };
}
function fixedH(height) {
  return s => { s.height = height; s.paddingLeft = s.paddingRight = s.paddingTop = s.paddingBottom = 0; };
}

function makeChart(id, datasets, xCfg, yCfg, padding, plugins) {
  const tickFont = ctx => {
    const label = ctx.tick && ctx.tick.label;
    if (label === 'π/4') return { family: SERIF, size: 63, style: 'italic', lineHeight: 0.857 };
    if (label === 'π') return { family: SERIF, size: 54, style: 'italic', lineHeight: 0.89 };
    return { family: SANS, size: TICK_PX, lineHeight: 1 };
  };
  const xOpt = {
    type: 'linear', min: xCfg.min, max: xCfg.max, afterFit: fixedH(xCfg.height),
    afterBuildTicks: s => { s.ticks = xCfg.ticks.map(value => ({ value })); },
    grid: { display: false, drawTicks: false }, border: { display: false },
    ticks: { autoSkip: false, maxRotation: 0, padding: 18, labelOffset: xCfg.labelOffset, color: BLACK, font: tickFont,
             callback: xCfg.labels ? (v, i) => xCfg.labels[i] : v => String(v) }
  };
  if (xCfg.title) xOpt.title = { display: true, text: xCfg.title, color: BLACK,
    font: { family: SANS, size: LABEL_PX, lineHeight: 1.07 }, padding: { top: 0, bottom: xCfg.titlePad } };
  const yOpt = {
    type: 'linear', min: yCfg.min, max: yCfg.max, afterFit: fixed(yCfg.width),
    afterBuildTicks: s => { s.ticks = yCfg.ticks.map(value => ({ value })); },
    grid: { display: false, drawTicks: false }, border: { display: false },
    ticks: { autoSkip: false, padding: 9, labelOffset: 3, color: BLACK, font: { family: SANS, size: TICK_PX, lineHeight: 1 },
             callback: v => String(v) }
  };
  return new Chart(document.getElementById(id), {
    type: 'scatter',
    data: { datasets },
    options: {
      responsive: false, animation: false, devicePixelRatio: 1,
      layout: { padding },
      plugins: { legend: { display: false }, tooltip: { enabled: false }, title: { display: false } },
      scales: { x: xOpt, y: yOpt }
    },
    plugins
  });
}

const R_BLUE = 3.5, R_BLACK = 3.3;

makeChart('c1',
  [limitLine(25), scatterSet(duringLabel, zip(duringPhase, duringAmplitude), BLUE, R_BLUE), scatterSet(beforeLabel, zip(beforePhase, beforeAmplitude), BLACK, R_BLACK)],
  { min: 0, max: PI, ticks: phaseTicks, labels: phaseTickLabels, height: 98, labelOffset: 1 },
  { min: 0, max: 25, ticks: amplitudeTicks, width: 211 },
  { top: 230, right: 1049, bottom: 0, left: 0 },
  [frame, annotations, mathLabel('yLabel1', 'Average amplitude ', '(μV)', 66, 94, 621, true)]);

makeChart('c2',
  [limitLine(12), scatterSet(duringLabel, zip(duringPhase, duringWavelength), BLUE, R_BLUE), scatterSet(beforeLabel, zip(beforePhase, beforeWavelength), BLACK, R_BLACK)],
  { min: 0, max: PI, ticks: phaseTicks, labels: phaseTickLabels, height: 269, labelOffset: 1, title: ['Standard deviation', 'Hilbert phase'], titlePad: 45 },
  { min: 0, max: 12, ticks: wavelengthTicks, width: 211 },
  { top: 58, right: 56, bottom: 0, left: 0 },
  [frame, mathLabel('yLabel2', 'Estimated wavelength ', '(mm)', 70, 94, 446.5, true)]);

makeChart('c3',
  [scatterSet(duringLabel, zip(duringAmplitude, duringWavelength), BLUE, R_BLUE), scatterSet(beforeLabel, zip(beforeAmplitude, beforeWavelength), BLACK, R_BLACK)],
  { min: 0, max: 25, ticks: amplitudeTicks, height: 269, labelOffset: 3 },
  { min: 0, max: 12, ticks: wavelengthTicksShort, width: 105 },
  { top: 58, right: 115, bottom: 0, left: 0 },
  [frame, mathLabel('xLabel3', 'Average amplitude ', '(μV)', 66, 489.5, 970, false)]);
</script>
</body>
</html>
